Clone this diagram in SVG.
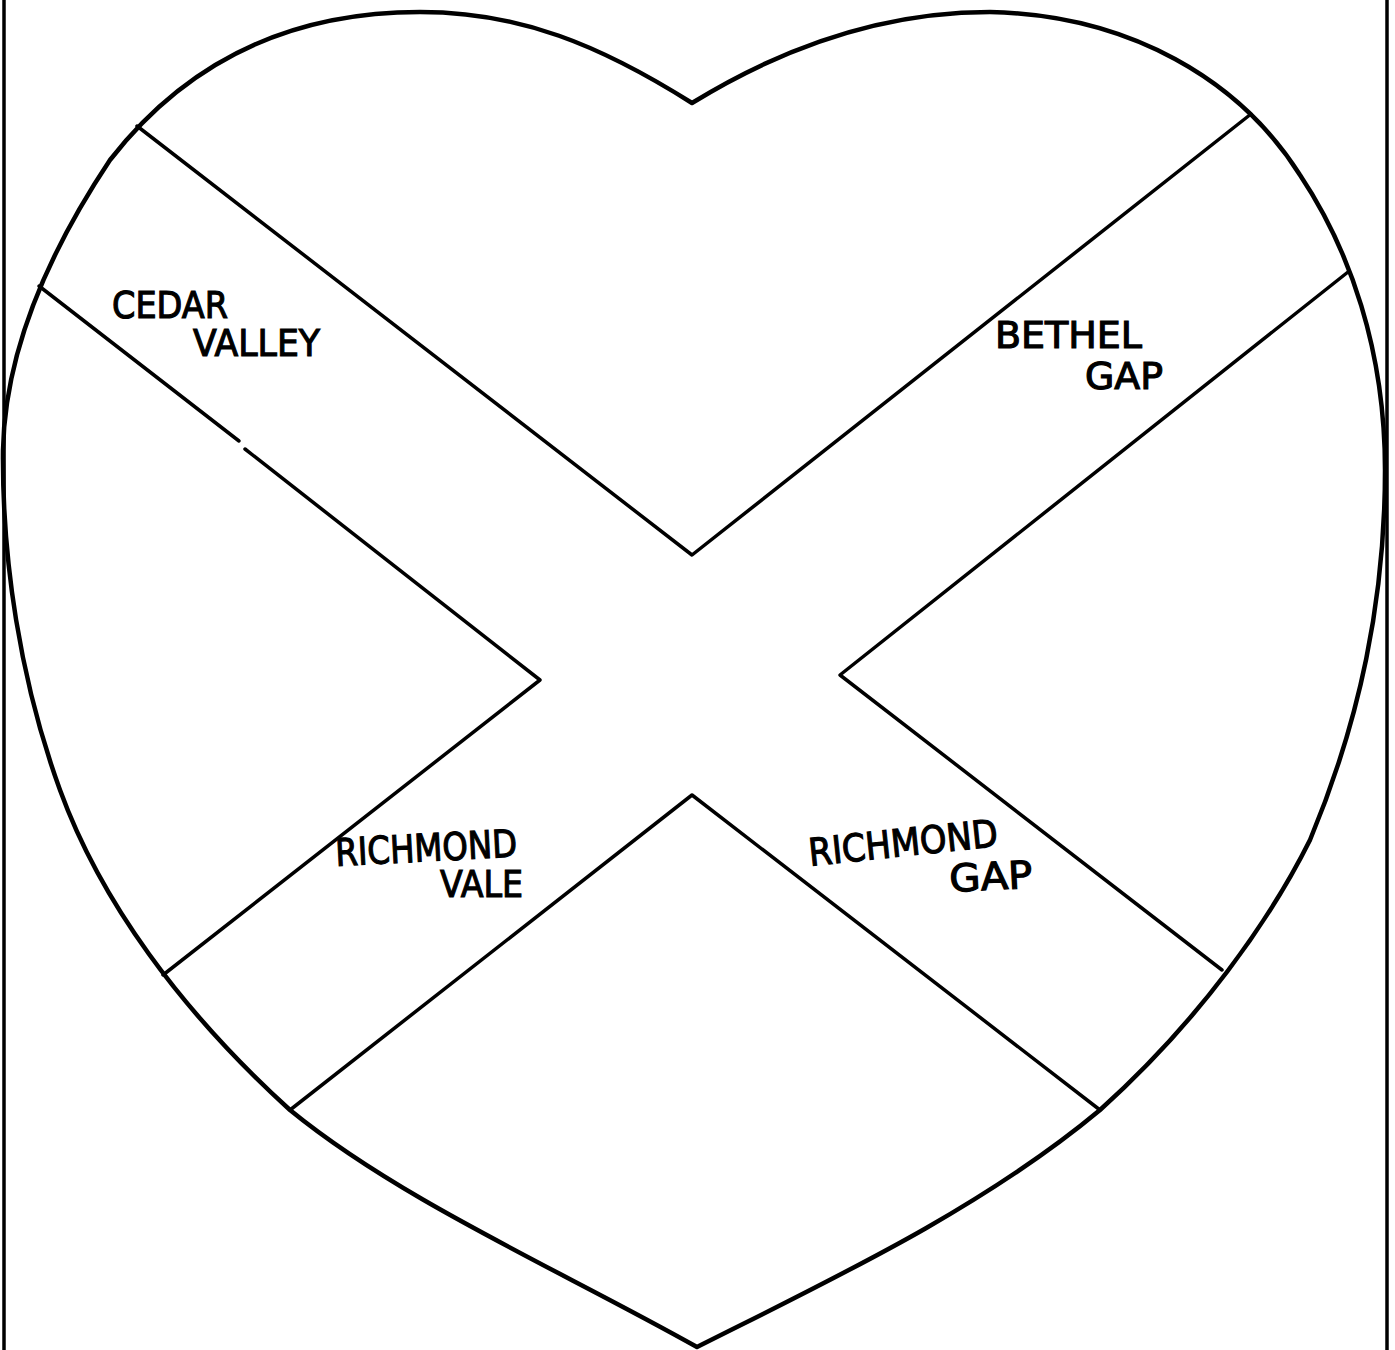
<svg xmlns="http://www.w3.org/2000/svg" width="1395" height="1350" viewBox="0 0 1395 1350">
<style>
.outline{fill:none;stroke:#000;stroke-width:4.5;stroke-linejoin:round;stroke-linecap:round}
.road{fill:none;stroke:#000;stroke-width:3.5;stroke-linecap:round;stroke-linejoin:round}
.frame{stroke:#000;stroke-width:3.5}
.lbl{font-family:"DejaVu Sans","Liberation Sans",sans-serif;font-size:38px;fill:#000;stroke:#000;stroke-width:1.2}
</style>
<rect width="1395" height="1350" fill="#fff"/>
<g id="frame">
<line class="frame" x1="4" y1="0" x2="4" y2="1350"/>
<line class="frame" x1="1387" y1="0" x2="1387" y2="1350"/>
</g>
<g id="heart">
<path class="outline" d="M692,103 C600,45 520,12 420,12 C280,12 180,70 110,160 C50,250 5,350 3,450 C2,560 20,680 60,790 C100,900 180,1010 290,1110 C400,1200 560,1270 697,1347 C830,1280 980,1210 1100,1110 C1200,1020 1270,920 1310,840 C1360,720 1385,600 1385,470 C1385,350 1350,250 1300,175 C1240,80 1130,15 990,12 C870,12 770,55 692,103 Z"/>
</g>
<g id="roads">
<polyline class="road" points="137,126 692,555 1251,114"/>
<polyline class="road" points="39,286 239,441"/>
<polyline class="road" points="245,449 540,680 163,975"/>
<polyline class="road" points="1348,272 840,675 1222,970"/>
<polyline class="road" points="290,1110 692,795 1100,1110"/>
</g>
<g id="labels">
<text class="lbl" x="112" y="318" textLength="116" lengthAdjust="spacingAndGlyphs">CEDAR</text>
<text class="lbl" x="193" y="356" textLength="127" lengthAdjust="spacingAndGlyphs">VALLEY</text>
<text class="lbl" x="995" y="348" textLength="147" lengthAdjust="spacingAndGlyphs">BETHEL</text>
<text class="lbl" x="1085" y="389" textLength="78" lengthAdjust="spacingAndGlyphs">GAP</text>
<text class="lbl" x="336" y="866" textLength="182" lengthAdjust="spacingAndGlyphs" transform="rotate(-3 336 866)">RICHMOND</text>
<text class="lbl" x="440" y="897" textLength="83" lengthAdjust="spacingAndGlyphs">VALE</text>
<text class="lbl" x="810" y="866" textLength="190" lengthAdjust="spacingAndGlyphs" transform="rotate(-6 810 866)">RICHMOND</text>
<text class="lbl" x="950" y="892" textLength="83" lengthAdjust="spacingAndGlyphs" transform="rotate(-3 950 892)">GAP</text>
</g>
</svg>
